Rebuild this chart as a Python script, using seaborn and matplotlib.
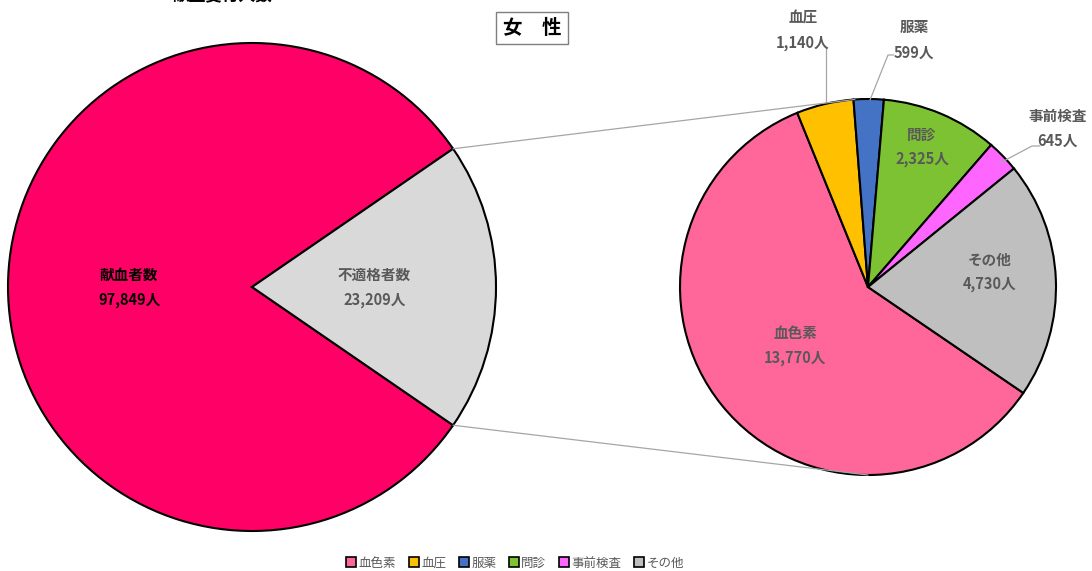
import numpy as np
import matplotlib
matplotlib.use("Agg")
import matplotlib.pyplot as plt
import seaborn as sns
from matplotlib.patches import ConnectionPatch
from matplotlib.lines import Line2D

# ---- data ----
main_labels = ["献血者数", "不適格者数"]
main_values = [97849, 23209]
main_colors = ["#FF0066", "#D9D9D9"]

sub_labels = ["血色素", "血圧", "服薬", "問診", "事前検査", "その他"]
sub_values = [13770, 1140, 599, 2325, 645, 4730]
sub_colors = ["#FF6699", "#FFC000", "#4472C4", "#7DC232", "#FF66FF", "#BFBFBF"]

title_text = "女　性"
top_title = "献血受付人数"

sns.set_theme(style="white")
plt.rcParams['font.family'] = ['Noto Sans CJK JP', 'DejaVu Sans']

W, H = 1092, 571
fig = plt.figure(figsize=(W / 100, H / 100), dpi=100)

def rect(cx, cy, r):
    return [(cx - r) / W, (H - cy - r) / H, 2 * r / W, 2 * r / H]

axL = fig.add_axes(rect(252, 287, 244))
axR = fig.add_axes(rect(868, 287, 188))

wedge_kw = dict(edgecolor="black", linewidth=1.5)
frac_gray = main_values[1] / sum(main_values) * 360
startL = frac_gray / 2
axL.pie(main_values, colors=main_colors, startangle=startL, counterclock=True,
        wedgeprops=wedge_kw, radius=1)
axL.set_xlim(-1, 1); axL.set_ylim(-1, 1); axL.set_aspect("equal"); axL.axis("off")

startR = -34.3
axR.pie(sub_values, colors=sub_colors, startangle=startR, counterclock=False,
        wedgeprops=wedge_kw, radius=1)
axR.set_xlim(-1, 1); axR.set_ylim(-1, 1); axR.set_aspect("equal"); axR.axis("off")

GRAY = "#595959"
FS = 10.5

def two_line(ax, x, y, name, val, color, gap=0.1):
    ax.text(x, y + gap / 2, name, ha="center", va="center", fontsize=FS,
            fontweight="bold", color=color, clip_on=False)
    ax.text(x, y - gap / 2, f"{val:,}人", ha="center", va="center", fontsize=FS,
            fontweight="bold", color=color, clip_on=False)

# left labels
two_line(axL, -0.504, -0.002, main_labels[0], main_values[0], "black", gap=0.103)
two_line(axL, 0.502, -0.002, main_labels[1], main_values[1], GRAY, gap=0.103)

# right labels
g = 0.133
two_line(axR, -0.388, -0.309, sub_labels[0], sub_values[0], GRAY, g)
two_line(axR, -0.346, 1.365, sub_labels[1], sub_values[1], GRAY, g)
two_line(axR, 0.245, 1.315, sub_labels[2], sub_values[2], GRAY, g)
two_line(axR, 0.287, 0.745, sub_labels[3], sub_values[3], GRAY, g)
two_line(axR, 1.01, 0.845, sub_labels[4], sub_values[4], GRAY, g)
two_line(axR, 0.649, 0.08, sub_labels[5], sub_values[5], GRAY, g)

# leader lines (right pie)
def px(xp, yp):
    return ((xp - 868) / 188, (287 - yp) / 188)

lc = "#A6A6A6"
for pts in [[(826, 47), (826, 102)],
            [(894, 55), (888, 55), (870, 100)],
            [(1040, 146), (1032, 146), (1000, 163)]]:
    xs, ys = zip(*[px(*p) for p in pts])
    axR.add_line(Line2D(xs, ys, color=lc, linewidth=0.9, clip_on=False))

# connector lines between pies
a1 = np.deg2rad(startL)
a2 = np.deg2rad(-startL)
t1 = np.deg2rad(94)
t2 = np.deg2rad(-90)
for aL, aR in [(a1, t1), (a2, t2)]:
    con = ConnectionPatch(xyA=(np.cos(aL), np.sin(aL)), coordsA=axL.transData,
                          xyB=(np.cos(aR), np.sin(aR)), coordsB=axR.transData,
                          color="#A6A6A6", linewidth=0.9)
    fig.add_artist(con)

# titles
fig.text(532 / W, 1 - 28 / H, title_text, ha="center", va="center", fontsize=14,
         fontweight="bold", color="black",
         bbox=dict(boxstyle="square,pad=0.33", facecolor="white", edgecolor="#7F7F7F", linewidth=1))
fig.text(222 / W, 1 + 5 / H, top_title, ha="center", va="center", fontsize=12,
         fontweight="bold", color="black")

# legend
handles = [Line2D([], [], marker="s", linestyle="", markersize=7, markerfacecolor=c,
                  markeredgecolor="black", markeredgewidth=1.2) for c in sub_colors]
leg = fig.legend(handles, sub_labels, loc="center", bbox_to_anchor=(515 / W, 1 - 563 / H),
                 ncol=6, frameon=False, fontsize=9, handlelength=0.8, handletextpad=0.2,
                 columnspacing=1.0, labelcolor=GRAY)

fig.savefig("out.png", dpi=100, facecolor="white")
